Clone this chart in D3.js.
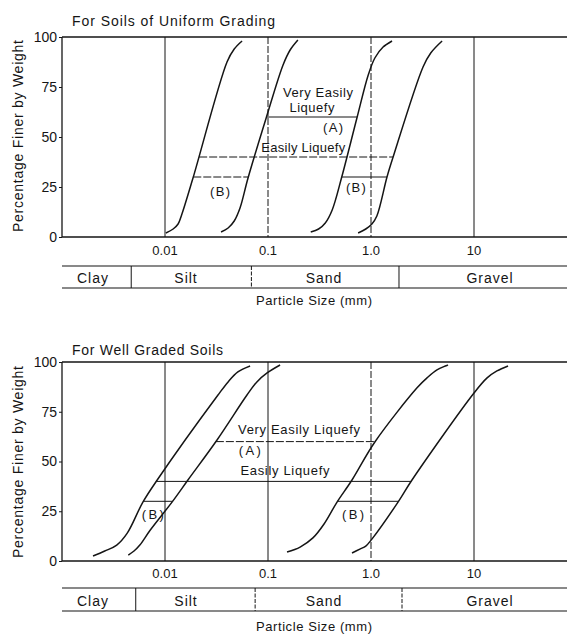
<!DOCTYPE html>
<html>
<head>
<meta charset="utf-8">
<script src="https://cdn.jsdelivr.net/npm/d3@7"></script>
<style>
  body { margin: 0; background: #fff; }
  svg { display: block; }
  text { font-family: "Liberation Sans", Arial, sans-serif; fill: #151515; }
</style>
</head>
<body>
<svg id="chart" width="567" height="635"></svg>
<script>
// ---- data ----
const gridSizes = [0.01, 0.1, 1, 10];
const gridLabels = ["0.01", "0.1", "1.0", "10"];
const pctTicks = [0, 25, 50, 75, 100];
const soilClasses = ["Clay", "Silt", "Sand", "Gravel"];
const classLabelSizes = [0.002, 0.016, 0.35, 14.3];
const uniformBreaks = [0.0047, 0.069, 1.87];
const wellBreaks = [0.0052, 0.075, 2.0];

// grading curves, particle size (mm) and percentage finer
const uniformSizes = [
    [0.0102, 0.012, 0.0134, 0.0146, 0.0187, 0.040, 0.047, 0.056],
    [0.035, 0.041, 0.047, 0.0535, 0.064, 0.096, 0.140, 0.164, 0.195],
    [0.26, 0.31, 0.36, 0.42, 0.52, 0.73, 0.94, 1.09, 1.31, 1.60],
    [0.75, 0.89, 1.02, 1.14, 1.43, 1.64, 3.2, 3.8, 4.9]
];
const uniformPcts = [
    [2, 4, 6.5, 11.5, 29.5, 87.5, 94, 98],
    [2.5, 4.5, 8, 14.5, 29.5, 59.5, 86, 93.5, 98.5],
    [2.5, 4, 7, 13.5, 30, 59.5, 81, 89.5, 95, 98],
    [2, 4, 6.5, 10.5, 30, 40, 85, 92, 98]
];
const wellSizes = [
    [0.0020, 0.0026, 0.0034, 0.0043, 0.0061, 0.0084, 0.0327, 0.041, 0.051, 0.067],
    [0.0044, 0.0050, 0.0057, 0.0072, 0.0117, 0.0167, 0.032, 0.0625, 0.078, 0.098, 0.131],
    [0.153, 0.205, 0.273, 0.35, 0.468, 0.654, 1.09, 2.8, 3.5, 4.37, 5.6],
    [0.654, 0.78, 0.89, 1.02, 1.83, 2.5, 10, 13.4, 16.7, 21.4]
];
const wellPcts = [
    [2.5, 5, 8, 14, 29.6, 40.7, 83.4, 90, 95, 98],
    [3, 5, 8, 15.6, 29.6, 40.7, 60.8, 83.4, 90, 94.5, 98.5],
    [4.5, 7, 11.6, 18.6, 29.6, 40.7, 59.8, 87, 92, 96, 98.5],
    [4, 6, 7.5, 11, 29.6, 40.7, 84.4, 92, 95.5, 98]
];

// zone boundary lines: level, and the two curves they run between
const zonePcts = [60, 40, 30, 30];
const zoneFrom = [1, 0, 0, 2];
const zoneTo = [2, 3, 1, 3];

// annotations
const uniformNotes = ["Very Easily", "Liquefy", "(A)", "Easily Liquefy", "(B)", "(B)"];
const uniformNoteSizes = [0.306, 0.267, 0.428, 0.22, 0.0342, 0.714];
const uniformNotePcts = [70, 62.5, 52.5, 42.5, 20.5, 22.5];
const wellNotes = ["Very Easily Liquefy", "(A)", "Easily Liquefy", "(B)", "(B)"];
const wellNoteSizes = [0.2, 0.0665, 0.146, 0.0076, 0.67];
const wellNotePcts = [63.8, 53.3, 43.2, 21, 21];

// ---- drawing ----
const W = 567;
const svg = d3.select("#chart");
const x = d3.scaleLog().domain([0.001, 100]).range([62, 577]);
const left = 62;
const ink = "#151515";

const panels = [
    {
        title: "For Soils of Uniform Grading", titleLen: 203, titleY: 26,
        top: 37, bottom: 237, sizes: uniformSizes, pcts: uniformPcts,
        notes: uniformNotes, noteSizes: uniformNoteSizes, notePcts: uniformNotePcts,
        noteLens: [70, 45, 20, 84, 20, 20],
        gridDash: [false, true, true, false], zoneDash: [false, true, true, false],
        breaks: uniformBreaks, breakDash: [false, true, false],
        tickY: 255, bandTop: 266, bandBottom: 288, classY: 283, xTitleY: 305, yTitleMid: 136
    },
    {
        title: "For Well Graded Soils", titleLen: 151, titleY: 355,
        top: 362, bottom: 561, sizes: wellSizes, pcts: wellPcts,
        notes: wellNotes, noteSizes: wellNoteSizes, notePcts: wellNotePcts,
        noteLens: [122, 22, 89, 22, 22],
        gridDash: [false, false, true, false], zoneDash: [true, false, false, false],
        breaks: wellBreaks, breakDash: [false, true, true],
        tickY: 578, bandTop: 588, bandBottom: 611, classY: 606, xTitleY: 631, yTitleMid: 462
    }
];

// size at which a curve reaches a given percentage (log interpolation)
function crossing(sizes, pcts, p) {
    for (let i = 0; i < pcts.length - 1; i++) {
        if (p >= pcts[i] && p <= pcts[i + 1]) {
            const t = (p - pcts[i]) / (pcts[i + 1] - pcts[i]);
            const a = Math.log10(sizes[i]), b = Math.log10(sizes[i + 1]);
            return Math.pow(10, a + t * (b - a));
        }
    }
    return sizes[0];
}

panels.forEach(p => {
    const y = d3.scaleLinear().domain([0, 100]).range([p.bottom, p.top]);
    const g = svg.append("g");

    g.append("text")
        .attr("x", 72).attr("y", p.titleY)
        .attr("textLength", p.titleLen).attr("lengthAdjust", "spacing")
        .style("font-size", "14px")
        .text(p.title);

    // frame
    g.append("line").attr("x1", left).attr("x2", W).attr("y1", p.top).attr("y2", p.top)
        .attr("stroke", ink).attr("stroke-width", 1.3);
    g.append("line").attr("x1", left).attr("x2", W).attr("y1", p.bottom).attr("y2", p.bottom)
        .attr("stroke", ink).attr("stroke-width", 1.3);
    g.append("line").attr("x1", left).attr("x2", left).attr("y1", p.top).attr("y2", p.bottom)
        .attr("stroke", ink).attr("stroke-width", 1.3);

    // y axis
    const yAxis = g.append("g")
        .attr("transform", `translate(${left},0)`)
        .call(d3.axisLeft(y).tickValues(pctTicks).tickSize(3).tickPadding(2));
    yAxis.select(".domain").remove();
    yAxis.selectAll("line").attr("stroke", ink);
    yAxis.selectAll("text")
        .style("font-size", "14px").style("font-family", "Liberation Sans, Arial, sans-serif")
        .attr("fill", ink);

    g.append("text")
        .attr("transform", `translate(23,${p.yTitleMid}) rotate(-90)`)
        .attr("text-anchor", "middle")
        .attr("textLength", 192).attr("lengthAdjust", "spacing")
        .style("font-size", "14px")
        .text("Percentage Finer by Weight");

    // vertical grid lines at each decade
    g.selectAll(".grid").data(gridSizes).enter().append("line")
        .attr("x1", d => x(d)).attr("x2", d => x(d))
        .attr("y1", p.top).attr("y2", p.bottom)
        .attr("stroke", ink).attr("stroke-width", 1)
        .attr("stroke-dasharray", (d, i) => p.gridDash[i] ? "7,2" : null);

    g.selectAll(".xlab").data(gridSizes).enter().append("text")
        .attr("x", d => x(d)).attr("y", p.tickY)
        .attr("text-anchor", "middle")
        .style("font-size", "13px")
        .text((d, i) => gridLabels[i]);

    // soil classification band
    [p.bandTop, p.bandBottom].forEach(yy => {
        g.append("line").attr("x1", left).attr("x2", W).attr("y1", yy).attr("y2", yy)
            .attr("stroke", ink).attr("stroke-width", 1.2);
    });
    g.selectAll(".brk").data(p.breaks).enter().append("line")
        .attr("x1", d => x(d)).attr("x2", d => x(d))
        .attr("y1", p.bandTop).attr("y2", p.bandBottom)
        .attr("stroke", ink).attr("stroke-width", 1)
        .attr("stroke-dasharray", (d, i) => p.breakDash[i] ? "4,1.5" : null);
    g.selectAll(".cls").data(soilClasses).enter().append("text")
        .attr("x", (d, i) => x(classLabelSizes[i])).attr("y", p.classY)
        .attr("text-anchor", "middle")
        .style("font-size", "14px").style("letter-spacing", "1px")
        .text(d => d);

    g.append("text")
        .attr("x", 314).attr("y", p.xTitleY)
        .attr("text-anchor", "middle")
        .attr("textLength", 116).attr("lengthAdjust", "spacing")
        .style("font-size", "13px")
        .text("Particle Size (mm)");

    // zone boundary lines between curves
    zonePcts.forEach((lvl, i) => {
        const a = crossing(p.sizes[zoneFrom[i]], p.pcts[zoneFrom[i]], lvl);
        const b = crossing(p.sizes[zoneTo[i]], p.pcts[zoneTo[i]], lvl);
        g.append("line")
            .attr("x1", x(a)).attr("x2", x(b))
            .attr("y1", y(lvl)).attr("y2", y(lvl))
            .attr("stroke", ink).attr("stroke-width", 1)
            .attr("stroke-dasharray", p.zoneDash[i] ? "8,2" : null);
    });

    // grading curves
    const line = d3.line()
        .x(d => x(d[0])).y(d => y(d[1]))
        .curve(d3.curveCatmullRom.alpha(0.5));
    p.sizes.forEach((s, i) => {
        g.append("path")
            .datum(s.map((v, j) => [v, p.pcts[i][j]]))
            .attr("d", line)
            .attr("fill", "none")
            .attr("stroke", ink)
            .attr("stroke-width", 1.5);
    });

    // annotations
    g.selectAll(".note").data(p.notes).enter().append("text")
        .attr("x", (d, i) => x(p.noteSizes[i])).attr("y", (d, i) => y(p.notePcts[i]))
        .attr("text-anchor", "middle")
        .attr("textLength", (d, i) => p.noteLens[i]).attr("lengthAdjust", "spacing")
        .style("font-size", "13px")
        .text(d => d);
});
</script>
</body>
</html>
